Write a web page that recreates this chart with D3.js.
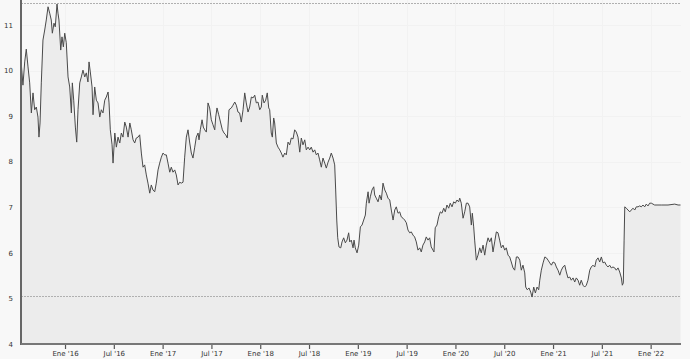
<!DOCTYPE html>
<html>
<head>
<meta charset="utf-8">
<script src="https://cdn.jsdelivr.net/npm/d3@7"></script>
<style>
  html, body { margin: 0; padding: 0; background: #f8f8f8; }
  svg { display: block; }
  text { font-family: Verdana, "DejaVu Sans", sans-serif; font-size: 7px; fill: #333; }
</style>
</head>
<body>
<svg id="chart" width="690" height="359"></svg>
<script>
// time in decimal years, price values
const years = [
2015.551,2015.569,2015.587,2015.603,2015.621,2015.638,2015.655,2015.672,2015.689,2015.706,2015.723,2015.733,2015.744,2015.757,2015.774,2015.792,2015.808,2015.826,2015.843,2015.859,2015.870,2015.887,2015.900,2015.918,2015.928,2015.938,2015.956,2015.969,2015.983,2015.997,
2016.013,2016.031,2016.048,2016.065,2016.075,2016.089,2016.106,2016.120,2016.133,2016.151,2016.167,2016.184,2016.202,2016.218,2016.235,2016.246,2016.259,2016.277,2016.287,2016.304,2016.321,2016.338,2016.356,2016.372,2016.389,2016.407,2016.423,2016.441,2016.451,2016.464,2016.482,2016.492,2016.510,2016.526,2016.543,2016.561,2016.577,2016.594,2016.612,2016.628,2016.646,2016.664,
2016.679,2016.697,2016.714,2016.730,2016.748,2016.765,2016.782,2016.799,2016.816,2016.833,2016.850,2016.868,2016.884,2016.901,2016.919,2016.935,2016.953,2016.970,2016.987,
2017.004,2017.021,2017.038,2017.055,2017.073,2017.089,2017.106,2017.124,2017.140,2017.158,2017.175,2017.191,2017.209,2017.226,2017.243,2017.260,2017.278,2017.294,2017.311,2017.329,2017.345,2017.363,2017.373,2017.386,2017.404,2017.417,2017.431,2017.448,2017.465,2017.482,2017.499,2017.516,2017.534,2017.544,2017.557,2017.575,2017.595,2017.612,2017.629,2017.646,2017.663,2017.680,2017.704,2017.721,2017.739,2017.755,2017.772,
2017.789,2017.806,2017.824,2017.841,2017.857,2017.875,2017.892,2017.909,2017.926,2017.944,2017.960,2017.977,2017.995,
2018.011,2018.021,2018.039,2018.056,2018.072,2018.087,2018.097,2018.113,2018.124,2018.138,2018.148,2018.165,2018.182,2018.200,2018.216,2018.233,2018.251,2018.267,2018.285,2018.302,2018.318,2018.336,2018.353,2018.370,2018.387,2018.405,2018.421,2018.438,2018.456,2018.472,2018.490,2018.507,2018.523,2018.541,2018.558,2018.575,2018.592,2018.609,2018.626,2018.643,2018.661,2018.677,2018.695,2018.712,2018.728,2018.746,2018.763,2018.773,2018.784,2018.794,2018.807,2018.825,2018.838,2018.855,2018.872,2018.889,2018.906,
2018.917,2018.933,2018.951,2018.961,2018.974,2018.992,
2019.009,2019.026,2019.043,2019.060,2019.077,2019.087,2019.105,2019.115,2019.128,2019.145,2019.163,2019.173,2019.189,2019.207,2019.224,2019.241,2019.258,2019.276,2019.292,2019.309,2019.327,2019.343,2019.361,2019.378,2019.394,2019.412,2019.429,2019.445,2019.463,2019.480,2019.497,2019.514,2019.531,2019.548,2019.565,2019.582,2019.599,2019.616,2019.634,2019.650,2019.667,2019.685,2019.701,2019.719,2019.736,2019.752,2019.770,2019.780,2019.793,2019.811,2019.828,2019.845,2019.862,2019.880,2019.896,2019.913,2019.931,2019.947,2019.965,2019.982,2019.999,
2020.016,2020.033,2020.044,2020.060,2020.078,2020.095,2020.112,2020.129,2020.146,2020.163,2020.173,2020.187,2020.197,2020.214,2020.231,2020.249,2020.265,2020.283,2020.300,2020.316,2020.334,2020.351,2020.368,2020.385,2020.402,2020.419,2020.436,2020.453,2020.470,2020.487,2020.505,2020.521,2020.539,2020.556,2020.572,2020.590,2020.607,2020.624,2020.641,2020.659,2020.675,2020.692,2020.710,2020.720,2020.736,2020.754,2020.771,2020.785,2020.802,2020.819,2020.836,2020.853,2020.864,2020.880,2020.898,2020.916,2020.932,2020.949,2020.966,2020.983,
2021.000,2021.018,2021.034,2021.051,2021.069,2021.085,2021.102,2021.120,2021.136,2021.153,2021.171,2021.187,2021.205,2021.222,2021.238,2021.256,2021.273,2021.289,2021.307,2021.324,2021.341,2021.358,2021.376,2021.392,2021.409,2021.427,2021.443,2021.461,2021.478,2021.495,2021.512,2021.529,2021.546,2021.563,2021.580,2021.597,2021.614,2021.632,2021.648,2021.666,2021.683,2021.700,2021.710,2021.720,2021.728,2021.735,2021.751,2021.768,2021.786,2021.802,2021.819,2021.837,2021.853,2021.871,2021.888,2021.904,2021.921,2021.939,2021.955,2021.973,2021.990,
2022.007,2022.041,2022.109,2022.178,2022.247,2022.281,2022.306
];
const prices = [
10.17,9.68,10.19,10.47,10.08,9.73,9.07,9.51,9.14,9.20,8.98,8.54,8.85,9.73,10.67,10.89,11.11,11.40,11.26,11.11,10.82,11.04,10.96,11.46,11.26,11.11,10.45,10.74,10.52,10.82,
10.61,9.86,9.64,9.07,9.73,9.35,8.76,8.43,9.14,9.73,9.86,10.01,9.86,9.95,9.75,10.19,9.97,9.64,9.03,9.64,9.35,9.29,8.98,9.14,9.07,9.35,9.42,9.53,9.29,8.70,8.37,7.97,8.63,8.32,8.54,8.41,8.63,8.54,8.87,8.76,8.54,8.85,
8.70,8.48,8.41,8.52,8.54,8.59,8.19,7.88,7.93,7.71,7.53,7.31,7.49,7.38,7.34,7.53,7.82,7.97,8.10,
8.19,8.15,8.15,7.97,7.77,7.88,7.77,7.82,7.71,7.49,7.55,7.53,7.55,8.10,8.54,8.70,8.41,8.19,8.08,8.32,8.54,8.63,8.48,8.70,8.92,8.76,8.70,8.65,9.29,9.18,8.92,8.81,8.70,8.98,9.18,9.03,8.85,8.70,8.63,8.59,8.52,9.14,9.18,9.24,9.31,9.24,9.09,
9.07,8.87,9.14,9.51,9.29,9.09,9.20,9.42,9.40,9.46,9.29,9.31,9.14,
9.20,9.46,9.29,9.35,9.51,9.18,9.14,8.63,8.54,8.96,8.85,8.41,8.32,8.26,8.19,8.10,8.19,8.15,8.43,8.37,8.52,8.50,8.70,8.65,8.54,8.21,8.52,8.37,8.48,8.26,8.32,8.26,8.32,8.21,8.26,8.15,8.19,8.04,7.88,8.08,7.97,7.86,7.99,8.08,8.19,8.08,7.93,7.38,6.72,6.33,6.13,6.11,6.24,6.33,6.22,6.28,6.44,
6.24,6.28,6.11,6.28,6.11,6.00,
6.17,6.57,6.61,6.72,6.83,7.09,7.34,7.09,7.23,7.38,7.45,7.27,7.20,7.12,7.27,7.16,7.53,7.38,7.31,7.20,7.16,6.94,6.72,6.94,7.01,6.87,6.90,6.79,6.76,6.72,6.66,6.50,6.44,6.46,6.39,6.35,6.24,6.06,6.11,6.02,6.17,6.24,6.35,6.28,6.33,6.13,6.06,6.02,6.55,6.61,6.79,6.90,6.87,6.98,6.90,7.05,6.98,7.09,7.01,7.12,7.09,
7.16,7.12,7.20,7.09,6.76,6.90,7.09,7.09,7.01,6.61,6.87,6.57,6.28,5.84,5.95,6.11,6.00,6.17,5.95,6.17,6.33,6.24,6.33,6.02,6.24,6.46,6.44,6.28,6.11,6.17,6.06,6.11,5.95,5.91,5.80,5.67,5.62,5.91,5.91,5.84,5.62,5.73,5.56,5.25,5.19,5.23,5.14,5.03,5.25,5.12,5.25,5.19,5.40,5.62,5.78,5.91,5.89,5.84,5.78,5.73,
5.80,5.78,5.69,5.62,5.51,5.62,5.69,5.73,5.58,5.45,5.47,5.40,5.45,5.36,5.45,5.40,5.29,5.40,5.29,5.25,5.29,5.40,5.62,5.69,5.73,5.69,5.84,5.89,5.80,5.91,5.78,5.80,5.73,5.69,5.73,5.67,5.69,5.67,5.62,5.67,5.58,5.45,5.29,5.34,6.28,7.01,6.98,6.94,6.90,6.94,6.98,6.94,7.01,7.01,7.03,7.01,7.05,7.01,7.07,7.03,7.09,
7.09,7.05,7.05,7.05,7.07,7.05,7.05
];
const yTicks = [4, 5, 6, 7, 8, 9, 10, 11];
const xTickValues = [2016, 2016.5, 2017, 2017.5, 2018, 2018.5, 2019, 2019.5, 2020, 2020.5, 2021, 2021.5, 2022];
const xTickLabels = ["Ene '16", "Jul '16", "Ene '17", "Jul '17", "Ene '18", "Jul '18", "Ene '19", "Jul '19", "Ene '20", "Jul '20", "Ene '21", "Jul '21", "Ene '22"];

(function () {
const data = years.map((t, i) => ({ t, v: prices[i] }));

const pL = 21, pR = 681, pB = 344, pT = 0;
const svg = d3.select("#chart");

const x = d3.scaleLinear().domain([2015.549, 2022.311]).range([pL, pR]);
const y = d3.scaleLinear().domain([4, 11]).range([pB, 25]);

// faint gridlines
const grid = svg.append("g");
grid.selectAll("line.v").data(xTickValues).join("line")
  .attr("x1", d => Math.round(x(d)) + 0.5).attr("x2", d => Math.round(x(d)) + 0.5)
  .attr("y1", pT).attr("y2", pB)
  .attr("stroke", "#f2f2f2").attr("stroke-width", 1);
grid.selectAll("line.h").data(yTicks.slice(1)).join("line")
  .attr("x1", pL).attr("x2", pR)
  .attr("y1", d => Math.round(y(d)) + 0.5).attr("y2", d => Math.round(y(d)) + 0.5)
  .attr("stroke", "#f2f2f2").attr("stroke-width", 1);

// area
const area = d3.area().x(d => x(d.t)).y0(pB).y1(d => y(d.v));
svg.append("path").datum(data).attr("d", area).attr("fill", "#ececec");

// max/min dashed lines
const maxV = d3.max(prices), minV = d3.min(prices);
[maxV, minV].forEach(v => {
  svg.append("line")
    .attr("x1", pL).attr("x2", pR)
    .attr("y1", Math.round(y(v)) - 0.5).attr("y2", Math.round(y(v)) - 0.5)
    .attr("stroke", "#b0b0b0").attr("stroke-width", 1)
    .attr("stroke-dasharray", "2,1");
});

// line
const line = d3.line().x(d => x(d.t)).y(d => y(d.v));
svg.append("path").datum(data).attr("d", line)
  .attr("fill", "none").attr("stroke", "#4a4a4a").attr("stroke-width", 1);

// x axis
const xAxis = d3.axisBottom(x).tickValues(xTickValues)
  .tickFormat((d, i) => xTickLabels[i]).tickSize(5).tickPadding(2);
const gx = svg.append("g").attr("transform", `translate(0,${pB})`).call(xAxis);
gx.select(".domain").remove();
gx.selectAll(".tick line").attr("stroke", "#555").attr("stroke-width", 1.2);
gx.selectAll(".tick text").attr("fill", "#333").style("font-size", "7px")
  .style("font-family", "Verdana, 'DejaVu Sans', sans-serif");

// y axis labels
const yAxis = d3.axisLeft(y).tickValues(yTicks).tickFormat(d3.format("d")).tickSize(0).tickPadding(8);
const gy = svg.append("g").attr("transform", `translate(${pL},0)`).call(yAxis);
gy.select(".domain").remove();
gy.selectAll(".tick text").attr("fill", "#333").style("font-size", "7px")
  .style("font-family", "Verdana, 'DejaVu Sans', sans-serif");

// axis lines
svg.append("line").attr("x1", pL).attr("x2", pL).attr("y1", pT).attr("y2", pB + 1)
  .attr("stroke", "#666").attr("stroke-width", 2);
svg.append("line").attr("x1", pL).attr("x2", pR).attr("y1", pB).attr("y2", pB)
  .attr("stroke", "#777").attr("stroke-width", 2);
})();
</script>
</body>
</html>
